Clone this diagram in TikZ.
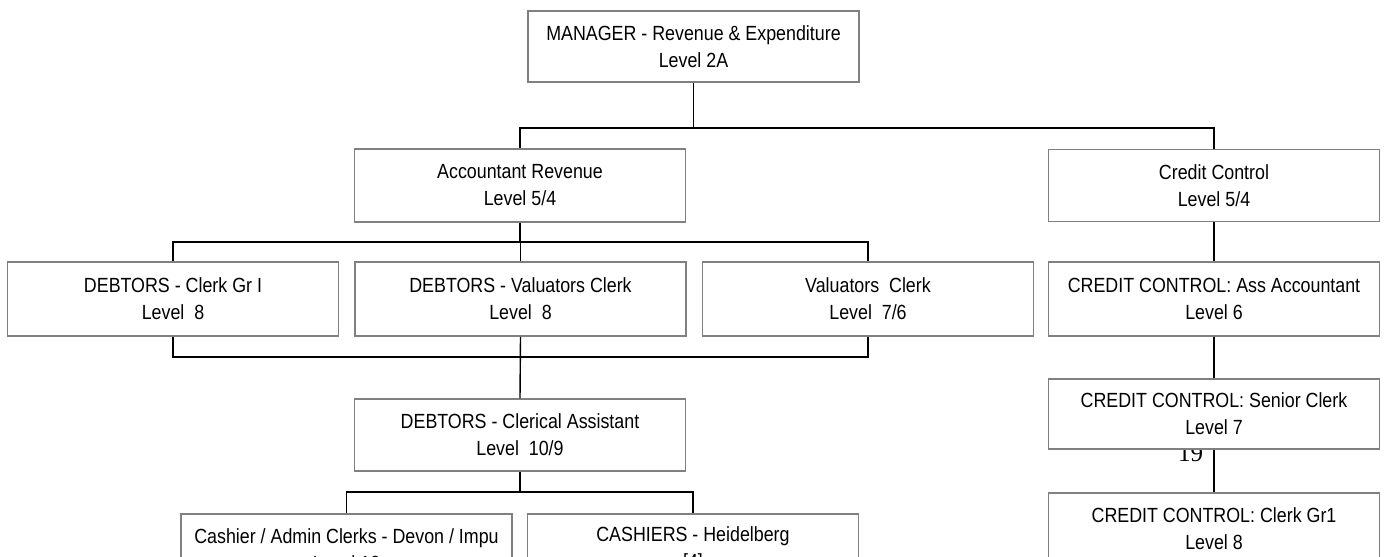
\documentclass[tikz,border=0pt]{standalone}
\usepackage{fontspec}
\setmainfont{Liberation Sans}[FakeStretch=0.87]
\newfontfamily\pagenumfont{Liberation Serif}
\begin{document}
\begin{tikzpicture}[x=1pt,y=1pt,
  post/.style={draw=black!50, line width=1.5pt, fill=white, align=center,
    inner sep=0pt, minimum height=72pt,
    font=\fontsize{20.5}{27}\selectfont},
  wide/.style={minimum width=331pt},
  link/.style={draw=black, line width=1.4pt}]
\useasboundingbox (0,0) rectangle (1385,-557);

% page number printed beneath the boxes
\node[anchor=base, font=\pagenumfont\fontsize{25}{25}\selectfont, inner sep=0pt]
  (pg) at (1190.5,-461) {19};

% bus levels
\coordinate (b1) at (0,-128);
\coordinate (b2) at (0,-242);
\coordinate (b3) at (0,-357);
\coordinate (b4) at (0,-492);

% top
\node[post, wide, minimum height=71pt] (mgr) at (693.5,-46.5)
  {MANAGER - Revenue \& Expenditure\\Level 2A};

% second tier
\node[post, wide, minimum height=73pt] (ar) at (520,-185.5)
  {Accountant Revenue\\Level 5/4};
\node[post, wide, minimum height=72pt] (cc) at (1214,-185.5)
  {Credit Control\\Level 5/4};

% debtors row
\node[post, wide, minimum height=74pt] (d1) at (173,-299)
  {DEBTORS - Clerk Gr I\\Level~ 8};
\node[post, wide, minimum height=74pt] (d2) at (520.5,-299)
  {DEBTORS - Valuators Clerk\\Level~ 8};
\node[post, wide, minimum height=74pt] (d3) at (868,-299)
  {Valuators~ Clerk\\Level~ 7/6};

% clerical assistant
\node[post, wide] (cl) at (520,-435)
  {DEBTORS - Clerical Assistant\\Level~ 10/9};

% cashiers
\node[post, wide] (c1) at (346.5,-550)
  {Cashier / Admin Clerks - Devon / Impu\\Level 10};
\node[post, wide] (c2) at (693,-550)
  {CASHIERS - Heidelberg\\{[4]}};

% credit control column
\node[post, wide, minimum height=74pt] (cca) at (1214,-299)
  {CREDIT CONTROL: Ass Accountant\\Level 6};
\node[post, wide, minimum height=70pt] (ccs) at (1214,-414)
  {CREDIT CONTROL: Senior Clerk\\Level 7};
\node[post, wide] (ccg) at (1214,-529)
  {CREDIT CONTROL: Clerk Gr1\\Level 8};

% connectors
\draw[link] (mgr.south) -- (mgr.south |- b1);
\draw[link] (ar.north) -- (ar.north |- b1) -- (cc.north |- b1) -- (cc.north);

\draw[link] (ar.south) -- (ar.south |- b2);
\draw[link] (d1.north) -- (d1.north |- b2) -- (d3.north |- b2) -- (d3.north);
\draw[link] (d2.north) -- (d2.north |- b2);

\draw[link] (d1.south) -- (d1.south |- b3) -- (d3.south |- b3) -- (d3.south);
\draw[link] (d2.south) -- (cl.north);

\draw[link] (cl.south) -- (cl.south |- b4);
\draw[link] (c1.north) -- (c1.north |- b4) -- (c2.north |- b4) -- (c2.north);

\draw[link] (cc.south) -- (cca.north);
\draw[link] (cca.south) -- (ccs.north);
\draw[link] (ccs.south) -- (ccg.north);
\end{tikzpicture}
\end{document}
